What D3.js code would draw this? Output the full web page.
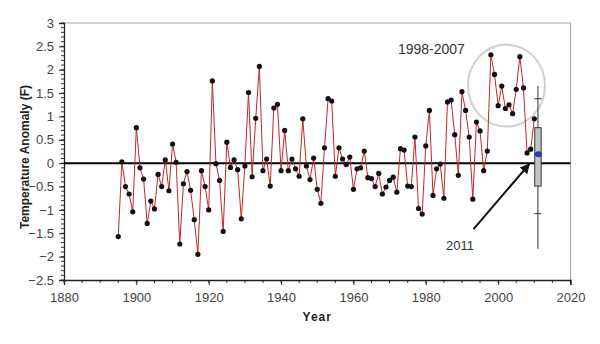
<!DOCTYPE html>
<html>
<head>
<meta charset="utf-8">
<script src="https://cdn.jsdelivr.net/npm/d3@7"></script>
<style>
  html, body { margin: 0; padding: 0; background: #fff; }
  svg { display: block; font-family: "Liberation Sans", Arial, sans-serif; }
</style>
</head>
<body>
<svg id="chart" width="600" height="344"></svg>
<script>
// ---- Data ----
const startYear = 1895;
const anomalies = [
  -1.57, 0.03, -0.50, -0.66, -1.04, 0.76, -0.10, -0.34, -1.29, -0.81,
  -0.98, -0.24, -0.50, 0.07, -0.59, 0.41, 0.02, -1.73, -0.44, -0.18,
  -0.58, -1.21, -1.95, -0.16, -0.50, -1.00, 1.76, -0.01, -0.37, -1.46,
  0.45, -0.09, 0.07, -0.14, -1.19, -0.06, 1.51, -0.29, 0.96, 2.07,
  -0.16, 0.09, -0.49, 1.18, 1.26, -0.16, 0.70, -0.16, 0.09, -0.12,
  -0.28, 0.95, -0.06, -0.35, 0.11, -0.56, -0.86, 0.33, 1.38, 1.33,
  -0.28, 0.33, 0.09, -0.03, 0.13, -0.56, -0.12, -0.10, 0.26, -0.31,
  -0.33, -0.50, -0.22, -0.66, -0.51, -0.37, -0.30, -0.62, 0.31, 0.28,
  -0.49, -0.50, 0.56, -0.97, -1.09, 0.37, 1.13, -0.69, -0.12, -0.02,
  -0.75, 1.31, 1.35, 0.61, -0.26, 1.53, 1.13, 0.56, -0.77, 0.88,
  0.69, -0.16, 0.26, 2.32, 1.90, 1.23, 1.65, 1.17, 1.25, 1.06,
  1.58, 2.28, 1.61, 0.22, 0.30, 0.95
];
const years = anomalies.map((v, i) => startYear + i);

// 2011 forecast box: whisker low/high, inner ticks, box low/high, point
const boxYear = 2011;
const boxWhisker = [-1.83, 1.65];
const boxTicks = [-1.08, 1.38];
const boxRange = [-0.49, 0.76];
const boxPoint = 0.19;

const xTicks = [1880, 1900, 1920, 1940, 1960, 1980, 2000, 2020];
const yTicks = [-2.5, -2, -1.5, -1, -0.5, 0, 0.5, 1, 1.5, 2, 2.5, 3];

const circleLabel = "1998-2007";
const arrowLabel = "2011";

// ---- Layout ----
const L = 64, R = 570.5, T = 23, B = 280;
const svg = d3.select("#chart");
const x = d3.scaleLinear().domain([1880, 2020]).range([L, R]);
const y = d3.scaleLinear().domain([-2.5, 3]).range([B, T]);

// frame top/right
svg.append("line").attr("x1", L).attr("x2", R).attr("y1", T).attr("y2", T)
  .attr("stroke", "#a8a8a8").attr("stroke-width", 1.2);
svg.append("line").attr("x1", R).attr("x2", R).attr("y1", T).attr("y2", B)
  .attr("stroke", "#a8a8a8").attr("stroke-width", 1.2);

// minor ticks
const yMinor = d3.range(-25, 31).map(d => d / 10);
svg.append("g").selectAll("line").data(yMinor).join("line")
  .attr("x1", L - 3).attr("x2", L).attr("y1", d => y(d)).attr("y2", d => y(d))
  .attr("stroke", "#333").attr("stroke-width", 1);
const xMinor = d3.range(1880, 2021, 5);
svg.append("g").selectAll("line").data(xMinor).join("line")
  .attr("x1", d => x(d)).attr("x2", d => x(d)).attr("y1", B).attr("y2", B + 3)
  .attr("stroke", "#333").attr("stroke-width", 1);

// axes
const yAxis = svg.append("g").attr("transform", `translate(${L},0)`)
  .call(d3.axisLeft(y).tickValues(yTicks).tickSize(5).tickPadding(5)
    .tickFormat(d => d3.format("")(d)));
const xAxis = svg.append("g").attr("transform", `translate(0,${B})`)
  .call(d3.axisBottom(x).tickValues(xTicks).tickSize(5).tickPadding(8)
    .tickFormat(d3.format("d")));
[yAxis, xAxis].forEach(g => {
  g.select(".domain").attr("stroke", "#222").attr("stroke-width", 1.3);
  g.selectAll(".tick line").attr("stroke", "#222");
  g.selectAll(".tick text").attr("fill", "#444").style("font-size", "13px")
    .style("font-family", "'Liberation Sans', Arial, sans-serif");
});

// zero line
svg.append("line").attr("x1", L).attr("x2", R).attr("y1", y(0)).attr("y2", y(0))
  .attr("stroke", "#000").attr("stroke-width", 2);

// axis titles
svg.append("text").attr("x", x(1950)).attr("y", 321).attr("text-anchor", "middle")
  .style("font-size", "12px").style("font-weight", "bold").style("letter-spacing", "1px")
  .attr("fill", "#222").text("Year");
svg.append("text").attr("transform", `translate(29,157) rotate(-90)`)
  .attr("text-anchor", "middle").style("font-size", "12px").style("font-weight", "bold")
  .attr("fill", "#222").text("Temperature Anomaly (F)");

// highlight circle
svg.append("ellipse").attr("cx", x(2002.3)).attr("cy", y(1.66)).attr("rx", 38.5).attr("ry", 41)
  .attr("fill", "none").attr("stroke", "#cfcfcf").attr("stroke-width", 2);

// series line
const line = d3.line().x((d, i) => x(years[i])).y(d => y(d));
svg.append("path").datum(anomalies).attr("d", line)
  .attr("fill", "none").attr("stroke", "#c0282a").attr("stroke-width", 1);

// points
svg.append("g").selectAll("circle").data(anomalies).join("circle")
  .attr("cx", (d, i) => x(years[i])).attr("cy", d => y(d)).attr("r", 2.6)
  .attr("fill", "#111");

// 2011 box
const bx = x(boxYear);
svg.append("line").attr("x1", bx).attr("x2", bx)
  .attr("y1", y(boxWhisker[0])).attr("y2", y(boxWhisker[1]))
  .attr("stroke", "#333").attr("stroke-width", 1);
svg.append("g").selectAll("line").data(boxTicks).join("line")
  .attr("x1", bx - 3.5).attr("x2", bx + 3.5).attr("y1", d => y(d)).attr("y2", d => y(d))
  .attr("stroke", "#333").attr("stroke-width", 1);
svg.append("rect").attr("x", bx - 3.2).attr("width", 6.4)
  .attr("y", y(boxRange[1])).attr("height", y(boxRange[0]) - y(boxRange[1]))
  .attr("fill", "#c4c4c4").attr("stroke", "#333").attr("stroke-width", 1);
svg.append("ellipse").attr("cx", bx + 0.5).attr("cy", y(boxPoint)).attr("rx", 3.6).attr("ry", 3)
  .attr("fill", "#1b3fc0");

// arrow
svg.append("defs").append("marker").attr("id", "ah").attr("viewBox", "0 0 10 10")
  .attr("refX", 9).attr("refY", 5).attr("markerWidth", 5).attr("markerHeight", 5)
  .attr("orient", "auto").append("path").attr("d", "M0,0 L10,5 L0,10 z").attr("fill", "#111");
svg.append("line").attr("x1", x(1993.2)).attr("y1", y(-1.41))
  .attr("x2", x(2008.6)).attr("y2", y(-0.02))
  .attr("stroke", "#111").attr("stroke-width", 2).attr("marker-end", "url(#ah)");

// labels
svg.append("text").attr("x", x(1972.3)).attr("y", 54).style("font-size", "14px")
  .attr("fill", "#333").text(circleLabel);
svg.append("text").attr("x", x(1985.6)).attr("y", 250).style("font-size", "13px")
  .attr("fill", "#333").text(arrowLabel);
</script>
</body>
</html>
